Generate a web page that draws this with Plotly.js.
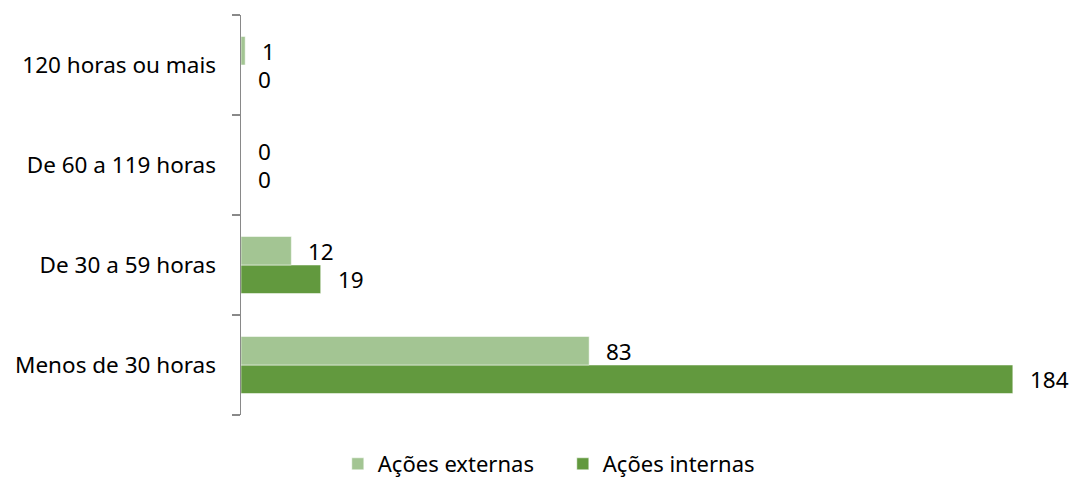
<!DOCTYPE html>
<html><head><meta charset="utf-8">
<script src="https://cdn.plot.ly/plotly-3.0.1.min.js"></script>
<style>html,body{margin:0;padding:0;background:#fff}#chart{width:1071px;height:479px}</style>
</head><body><div id="chart"></div>
<script>
const categories = ['Menos de 30 horas', 'De 30 a 59 horas', 'De 60 a 119 horas', '120 horas ou mais'];
const externas = [83, 12, 0, 1];
const internas = [184, 19, 0, 0];
const seriesNames = ['Ações externas', 'Ações internas'];

const FONT = 'Noto Sans, Open Sans, sans-serif';
const FS = 22.5;
const lightGreen = '#A3C593';
const darkGreen = '#62993E';

const traces = [
  {type:'bar', orientation:'h', name:seriesNames[1], y:categories, x:internas,
   marker:{color:darkGreen, line:{color:'rgba(255,255,255,0.5)', width:1}}, hoverinfo:'skip'},
  {type:'bar', orientation:'h', name:seriesNames[0], y:categories, x:externas,
   marker:{color:lightGreen, line:{color:'rgba(255,255,255,0.5)', width:1}}, hoverinfo:'skip'}
];

const annotations = [];
categories.forEach((c,i)=>{
  annotations.push({x:externas[i], y:c, xref:'x', yref:'y', text:String(externas[i]), showarrow:false,
    xanchor:'left', yanchor:'middle', xshift:15, yshift:14, font:{family:FONT, size:FS, color:'#000'}});
  annotations.push({x:internas[i], y:c, xref:'x', yref:'y', text:String(internas[i]), showarrow:false,
    xanchor:'left', yanchor:'middle', xshift:15, yshift:-14, font:{family:FONT, size:FS, color:'#000'}});
});

const layout = {
  width:1071, height:479,
  margin:{l:241, r:33, t:15, b:64},
  paper_bgcolor:'#fff', plot_bgcolor:'#fff',
  font:{family:FONT, size:FS, color:'#000'},
  barmode:'group', bargap:0.43, bargroupgap:0,
  showlegend:true,
  legend:{orientation:'h', traceorder:'reversed', xref:'container', yref:'container',
    x:0.5255, xanchor:'center', y:15/479, yanchor:'middle',
    font:{family:FONT, size:22, color:'#000'}, entrywidth:180, entrywidthmode:'pixels'},
  xaxis:{range:[0,190], visible:false, fixedrange:true},
  yaxis:{type:'category', categoryorder:'array', categoryarray:categories,
    showline:true, linecolor:'#898989', linewidth:1.5, ticks:'outside', tickson:'boundaries',
    ticklen:8, tickcolor:'#898989', tickwidth:1.5, showgrid:false, zeroline:false,
    ticklabelstandoff:19, tickfont:{family:FONT, size:FS, color:'#000'}, fixedrange:true},
  annotations:annotations
};
Plotly.newPlot('chart', traces, layout, {displayModeBar:false, staticPlot:true});
</script></body></html>
